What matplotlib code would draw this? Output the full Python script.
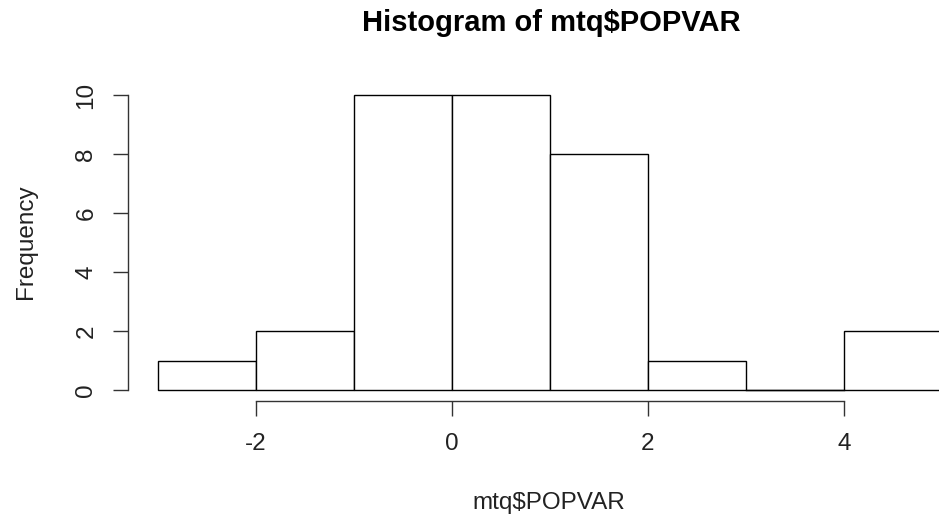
import matplotlib
matplotlib.use("Agg")
import matplotlib.pyplot as plt

# Datos del histograma (cortes y frecuencias)
breaks = [-3, -2, -1, 0, 1, 2, 3, 4, 5]
counts = [1, 2, 10, 10, 8, 1, 0, 2]
x_ticks = [-2, 0, 2, 4]
y_ticks = [0, 2, 4, 6, 8, 10]

plt.rcParams["font.family"] = ["Liberation Sans", "DejaVu Sans"]
plt.rcParams["axes.unicode_minus"] = False

fig = plt.figure(figsize=(9.39, 5.2), dpi=100)
# ejes colocados para imitar el estilo de R
ax = fig.add_axes([128 / 939, 119 / 520, 811 / 939, 341 / 520])

widths = [b - a for a, b in zip(breaks[:-1], breaks[1:])]
ax.bar(breaks[:-1], counts, width=widths, align="edge",
       facecolor="white", edgecolor="black", linewidth=1.0)
# la barra de altura cero se dibuja como una línea
for left, w, c in zip(breaks[:-1], widths, counts):
    if c == 0:
        ax.plot([left, left + w], [0, 0], color="black", linewidth=1.0)

ax.set_xlim(-3 - 30 / 98, -3 + 811 / 98 - 30 / 98)
ax.set_ylim(-11 / 29.5, 330 / 29.5)

for s in ["top", "right"]:
    ax.spines[s].set_visible(False)
ax.spines["left"].set_bounds(0, 10)
ax.spines["bottom"].set_bounds(-2, 4)
for s in ["left", "bottom"]:
    ax.spines[s].set_color("#333333")
    ax.spines[s].set_linewidth(1.0)

ax.set_xticks(x_ticks)
ax.set_yticks(y_ticks)
ax.set_yticklabels([str(v) for v in y_ticks], rotation=90, va="center")
ax.tick_params(axis="both", length=11, width=1.0, color="#333333",
               labelsize=17.5, labelcolor="#222222")
ax.tick_params(axis="x", pad=12)
ax.tick_params(axis="y", pad=11)

fig.text(549 / 939, 1 - 503 / 520, "mtq$POPVAR", ha="center", va="center",
         fontsize=17.5, color="#222222")
fig.text(26 / 939, 1 - 242 / 520, "Frequency", ha="center", va="center",
         rotation=90, fontsize=17.5, color="#222222")
fig.text(551 / 939, 1 - 23 / 520, "Histogram of mtq$POPVAR", ha="center",
         va="center", fontsize=21, fontweight="bold", color="black")

fig.savefig("out.png", dpi=100)
